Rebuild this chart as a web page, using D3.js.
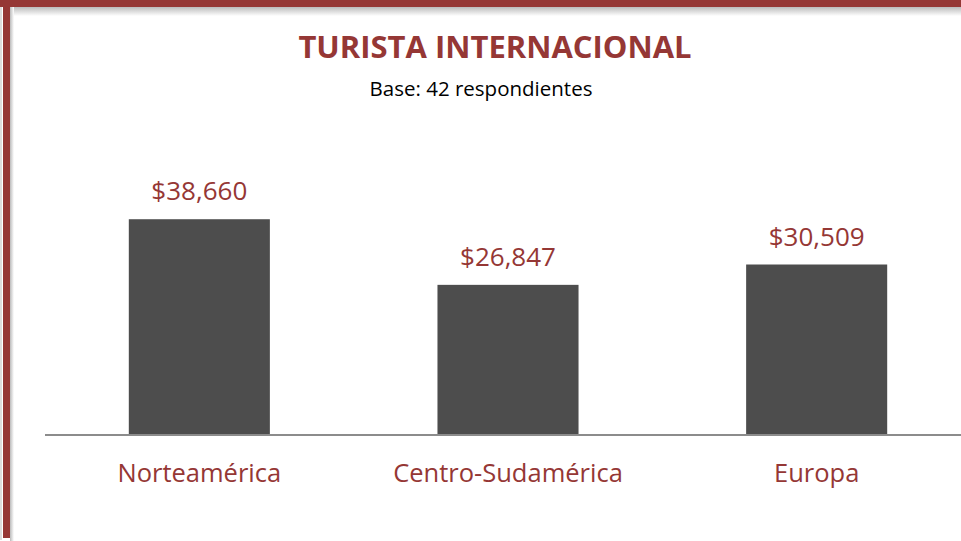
<!DOCTYPE html>
<html>
<head>
<meta charset="utf-8">
<script src="https://cdn.jsdelivr.net/npm/d3@7"></script>
<style>
  body { margin: 0; background: #fff; }
  svg { display: block; }
</style>
</head>
<body>
<div id="chart"></div>
<script>
const categories = ["Norteamérica", "Centro-Sudamérica", "Europa"];
const values = [38660, 26847, 30509];
const valueLabels = ["$38,660", "$26,847", "$30,509"];

const width = 961;
const height = 541;
const red = "#953735";
const font = "'Open Sans', sans-serif";

const svg = d3.select("#chart")
    .append("svg")
    .attr("width", width)
    .attr("height", height);

// frame: shadow + red bands on top and left
const defs = svg.append("defs");
const gTop = defs.append("linearGradient").attr("id", "shTop")
    .attr("x1", 0).attr("y1", 0).attr("x2", 0).attr("y2", 1);
gTop.append("stop").attr("offset", 0).attr("stop-color", "#bbb");
gTop.append("stop").attr("offset", 1).attr("stop-color", "#fff");
const gLeft = defs.append("linearGradient").attr("id", "shLeft")
    .attr("x1", 0).attr("y1", 0).attr("x2", 1).attr("y2", 0);
gLeft.append("stop").attr("offset", 0).attr("stop-color", "#bbb");
gLeft.append("stop").attr("offset", 1).attr("stop-color", "#fff");

svg.append("rect").attr("x", 10).attr("y", 7).attr("width", width).attr("height", 9)
    .attr("fill", "url(#shTop)");
svg.append("rect").attr("x", 10).attr("y", 7).attr("width", 4).attr("height", height)
    .attr("fill", "url(#shLeft)");
svg.append("rect").attr("x", 0).attr("y", 0).attr("width", 2).attr("height", 540)
    .attr("fill", "#ddd");
svg.append("rect").attr("x", 0).attr("y", 0).attr("width", width).attr("height", 7)
    .attr("fill", red);
svg.append("rect").attr("x", 3).attr("y", 0).attr("width", 7).attr("height", 538)
    .attr("fill", red);

// scales
const x = d3.scaleBand()
    .domain(categories)
    .range([45, 971])
    .paddingInner(0.543)
    .paddingOuter(0.2715);

const y = d3.scaleLinear()
    .domain([0, 45000])
    .range([434, 184]);

// title
svg.append("text")
    .attr("x", 495).attr("y", 58)
    .attr("text-anchor", "middle")
    .style("font-family", font)
    .style("font-weight", "bold")
    .style("font-size", "31px")
    .attr("fill", red)
    .text("TURISTA INTERNACIONAL");

svg.append("text")
    .attr("x", 481).attr("y", 96)
    .attr("text-anchor", "middle")
    .style("font-family", font)
    .style("font-size", "20.5px")
    .attr("fill", "#000")
    .text("Base: 42 respondientes");

// bars
svg.selectAll("rect.bar")
    .data(values)
    .join("rect")
    .attr("class", "bar")
    .attr("x", (d, i) => x(categories[i]))
    .attr("y", d => y(d))
    .attr("width", x.bandwidth())
    .attr("height", d => y(0) - y(d))
    .attr("fill", "#4d4d4d");

// value labels
svg.selectAll("text.val")
    .data(values)
    .join("text")
    .attr("class", "val")
    .attr("x", (d, i) => x(categories[i]) + x.bandwidth() / 2)
    .attr("y", d => y(d) - 19)
    .attr("text-anchor", "middle")
    .style("font-family", font)
    .style("font-size", "26px")
    .attr("fill", red)
    .text((d, i) => valueLabels[i]);

// axis line
svg.append("line")
    .attr("x1", 45).attr("x2", width)
    .attr("y1", y(0) + 1).attr("y2", y(0) + 1)
    .attr("stroke", "#8c8c8c")
    .attr("stroke-width", 2);

// category labels
svg.selectAll("text.cat")
    .data(categories)
    .join("text")
    .attr("class", "cat")
    .attr("x", d => x(d) + x.bandwidth() / 2)
    .attr("y", 482)
    .attr("text-anchor", "middle")
    .style("font-family", font)
    .style("font-size", "25.5px")
    .attr("fill", red)
    .text(d => d);
</script>
</body>
</html>
